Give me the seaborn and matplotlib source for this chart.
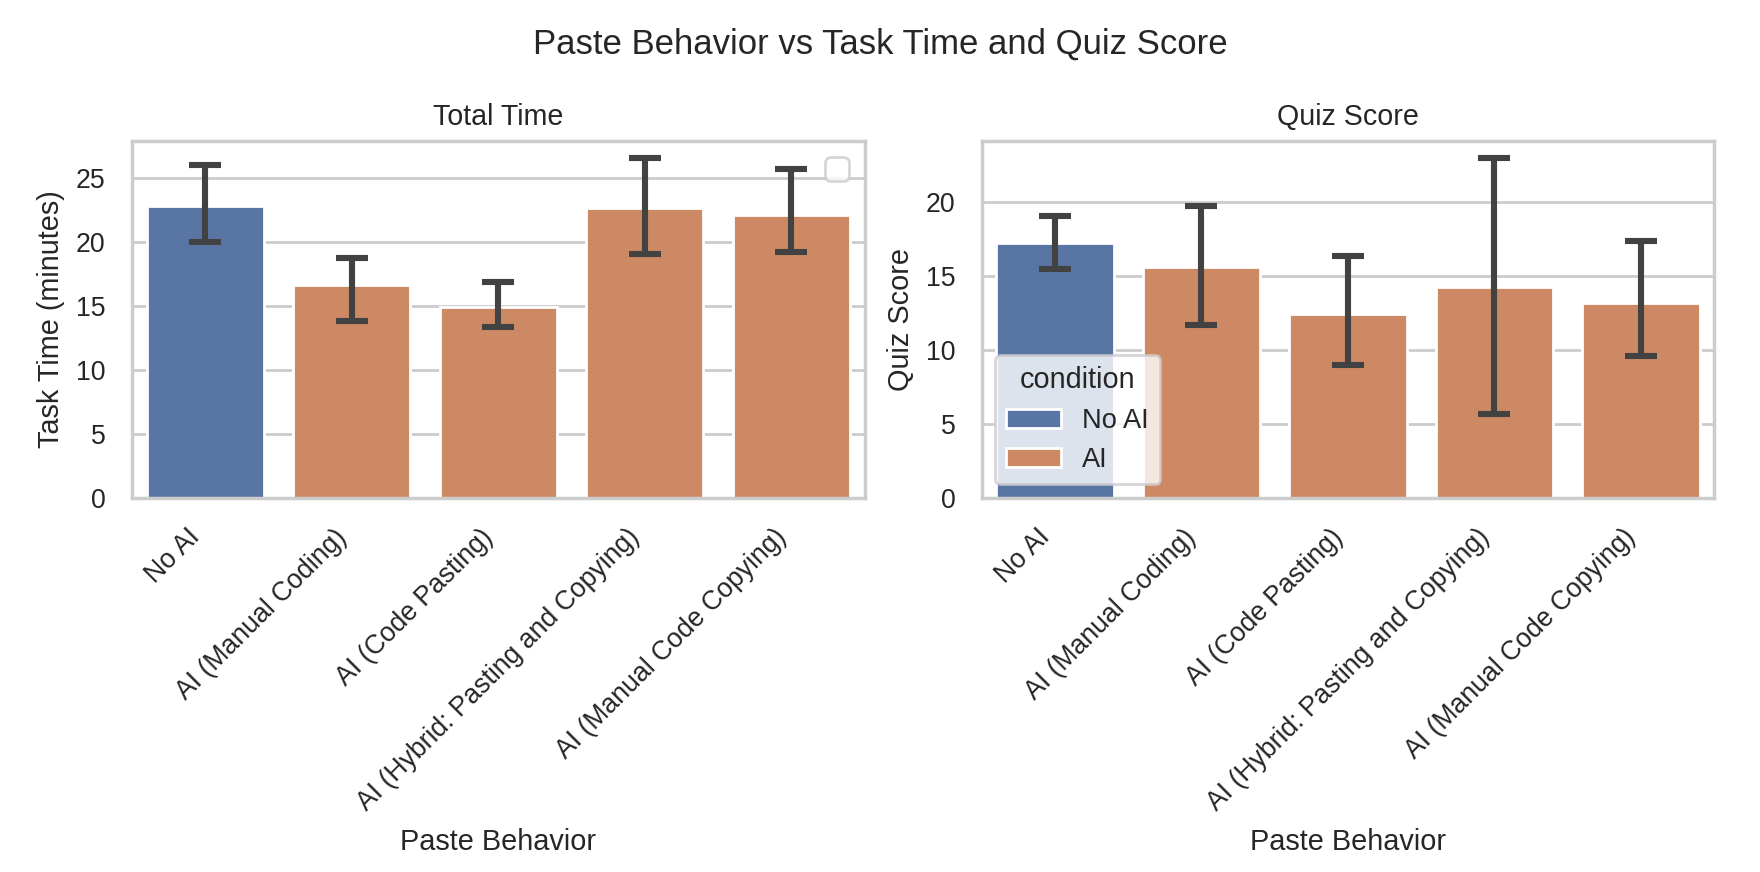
import pandas as pd
import seaborn as sns
import matplotlib.pyplot as plt
from matplotlib.legend import Legend

# valores
behaviors = ['No AI', 'AI (Manual Coding)', 'AI (Code Pasting)',
             'AI (Hybrid: Pasting and Copying)', 'AI (Manual Code Copying)']
conditions = ['No AI', 'AI', 'AI', 'AI', 'AI']

time_mean = [22.85, 16.62, 14.93, 22.70, 22.10]
time_low = [20.04, 13.83, 13.39, 19.05, 19.21]
time_high = [26.04, 18.76, 16.86, 26.57, 25.70]

quiz_mean = [17.25, 15.62, 12.46, 14.25, 13.20]
quiz_low = [15.46, 11.72, 8.96, 5.71, 9.59]
quiz_high = [19.07, 19.73, 16.37, 22.98, 17.36]

sns.set_theme(style='whitegrid')
plt.rcParams['font.family'] = ['Liberation Sans', 'DejaVu Sans']

df = pd.DataFrame({
    'paste_behavior': behaviors,
    'condition': conditions,
    'total_time': time_mean,
    'quiz_score': quiz_mean,
})

fig, axes = plt.subplots(1, 2, figsize=(8.8, 4.36), dpi=200)
fig.subplots_adjust(left=0.075, right=0.974, top=0.838, bottom=0.429, wspace=0.16)

paneles = [
    ('total_time', time_mean, time_low, time_high, 'Total Time', 'Task Time (minutes)'),
    ('quiz_score', quiz_mean, quiz_low, quiz_high, 'Quiz Score', 'Quiz Score'),
]

for ax, (col, means, low, high, title, ylabel) in zip(axes, paneles):
    sns.barplot(df, x='paste_behavior', y=col, hue='condition',
                hue_order=['No AI', 'AI'], order=behaviors,
                errorbar=None, dodge=False, ax=ax)
    yerr = [[m - l for m, l in zip(means, low)], [h - m for m, h in zip(means, high)]]
    ax.errorbar(range(len(behaviors)), means, yerr=yerr, fmt='none',
                ecolor='#424242', elinewidth=2.2, capsize=5.7, capthick=2.2)
    ax.set_xlim(-0.5, len(behaviors) - 0.5)
    ax.set_title(title, fontsize=10.3)
    ax.set_xlabel('Paste Behavior', fontsize=10.4)
    ax.set_ylabel(ylabel, fontsize=10.4)
    ax.tick_params(axis='both', labelsize=9.6)
    plt.setp(ax.get_xticklabels(), rotation=45, ha='right')
    ax.margins(y=0.05)

# la leyenda de la izquierda sale vacia en el original
axes[0].get_legend().remove()
vacia = Legend(axes[0], [], [], loc='upper right')
axes[0].add_artist(vacia)
sns.move_legend(axes[1], 'lower left', title='condition', fontsize=9.8, title_fontsize=10.4)

fig.suptitle('Paste Behavior vs Task Time and Quiz Score', fontsize=12.5, y=0.968)
fig.savefig('out.png', dpi=200)
